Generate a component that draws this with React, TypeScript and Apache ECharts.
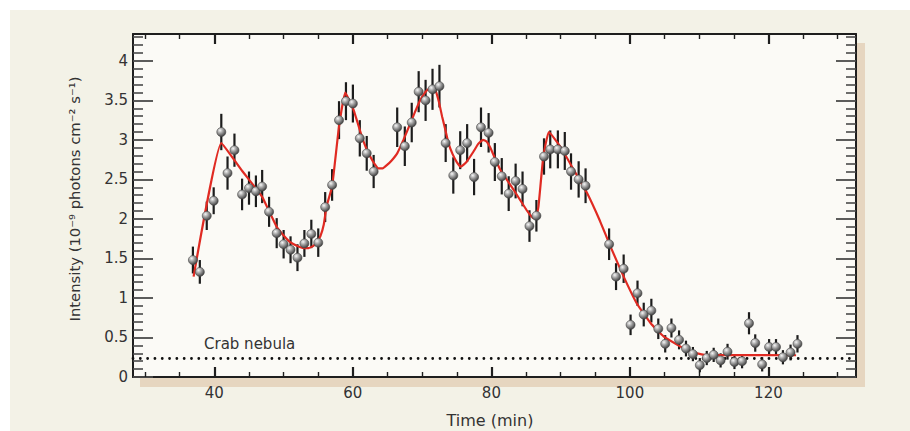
import React, { useEffect, useRef } from "react";
import * as echarts from "echarts";

const timeMin = [
  36.9, 37.9, 38.9, 39.9, 41.0, 41.9, 42.9, 44.0, 45.0, 46.0, 46.9, 47.9, 49.0, 50.0, 51.0, 52.0,
  53.0, 54.0, 55.0, 56.0, 57.0, 58.0, 59.0, 60.0, 61.0, 62.0, 63.0, 66.4, 67.5, 68.5, 69.5, 70.5,
  71.5, 72.5, 73.4, 74.5, 75.5, 76.5, 77.5, 78.5, 79.6, 80.5, 81.5, 82.5, 83.5, 84.5, 85.5, 86.5,
  87.6, 88.5, 89.6, 90.6, 91.5, 92.6, 93.6, 97.0, 98.0, 99.1, 100.1, 101.1, 102.0, 103.1, 104.1,
  105.1, 106.0, 107.1, 108.1, 109.1, 110.1, 111.1, 112.1, 113.1, 114.1, 115.1, 116.2, 117.2, 118.1,
  119.1, 120.1, 121.1, 122.1, 123.2, 124.2,
];
const intensity = [
  1.48, 1.33, 2.04, 2.23, 3.1, 2.58, 2.87, 2.31, 2.39, 2.35, 2.41, 2.09, 1.82, 1.68, 1.61, 1.51,
  1.69, 1.81, 1.7, 2.15, 2.43, 3.25, 3.49, 3.46, 3.02, 2.83, 2.6, 3.16, 2.92, 3.22, 3.61, 3.5,
  3.64, 3.68, 2.96, 2.55, 2.87, 2.96, 2.53, 3.16, 3.09, 2.72, 2.54, 2.32, 2.48, 2.38, 1.91, 2.04,
  2.79, 2.88, 2.88, 2.86, 2.6, 2.5, 2.42, 1.68, 1.27, 1.37, 0.66, 1.06, 0.79, 0.84, 0.61,
  0.42, 0.62, 0.47, 0.36, 0.29, 0.15, 0.24, 0.28, 0.21, 0.32, 0.19, 0.2, 0.68, 0.43,
  0.16, 0.38, 0.38, 0.25, 0.31, 0.42,
];
const errorBars = [
  0.17, 0.15, 0.18, 0.17, 0.23, 0.21, 0.21, 0.2, 0.21, 0.2, 0.21, 0.19, 0.19, 0.18, 0.17, 0.17,
  0.17, 0.18, 0.18, 0.19, 0.2, 0.24, 0.24, 0.24, 0.23, 0.22, 0.21, 0.25, 0.25, 0.25, 0.26, 0.26,
  0.26, 0.27, 0.24, 0.23, 0.24, 0.24, 0.23, 0.25, 0.25, 0.24, 0.23, 0.22, 0.22, 0.22, 0.2, 0.2,
  0.23, 0.24, 0.24, 0.24, 0.23, 0.23, 0.22, 0.2, 0.17, 0.18, 0.13, 0.16, 0.15, 0.15, 0.13,
  0.11, 0.12, 0.12, 0.1, 0.09, 0.09, 0.09, 0.09, 0.09, 0.1, 0.09, 0.09, 0.14, 0.11,
  0.09, 0.1, 0.1, 0.09, 0.1, 0.11,
];

const modelTime = [
  37.0, 41.0, 44.0, 46.9, 48.0, 49.0, 50.0, 50.9, 51.9, 52.9, 53.6, 54.3, 54.8, 55.3, 55.8, 56.2,
  57.0, 58.0, 58.9, 60.1, 61.3, 61.9, 62.5, 63.1, 63.7, 64.3, 64.9, 65.6, 66.4, 67.3, 68.3, 69.0,
  69.7, 70.5, 71.2, 71.9, 72.4, 72.9, 73.4, 73.8, 74.4, 75.0, 75.6, 76.4, 77.4, 78.1, 78.8, 79.3,
  79.8, 80.5, 81.3, 83.2, 85.1, 85.7, 86.1, 86.5, 86.8, 87.5, 88.3, 90.0, 91.9, 93.8, 95.7, 97.2,
  99.1, 101.0, 103.0, 104.9, 106.8, 108.7, 110.7, 112.6, 124.0,
];
const modelIntensity = [
  1.27, 2.96, 2.61, 2.28, 2.08, 1.9, 1.79, 1.71, 1.66, 1.63, 1.63, 1.66, 1.71, 1.78, 1.93, 2.16,
  2.41, 3.17, 3.6, 3.38, 3.04, 2.9, 2.79, 2.7, 2.64, 2.64, 2.68, 2.74, 2.83, 3.0, 3.21, 3.36,
  3.5, 3.61, 3.66, 3.63, 3.49, 3.29, 3.11, 2.96, 2.82, 2.72, 2.66, 2.72, 2.85, 2.95, 3.0, 2.98,
  2.91, 2.77, 2.62, 2.37, 2.11, 2.04, 2.01, 2.05, 2.16, 2.79, 3.1, 2.91, 2.62, 2.33, 1.97, 1.65,
  1.27, 0.93, 0.68, 0.51, 0.41, 0.32, 0.28, 0.277, 0.275,
];

const crabLevel = 0.24;

const majorX = [40, 60, 80, 100, 120];
const minorX = [30, 35, 45, 50, 55, 65, 70, 75, 85, 90, 95, 105, 110, 115, 125, 130];
const majorY = [0, 0.5, 1, 1.5, 2, 2.5, 3, 3.5, 4];
const minorY = [
  0.1, 0.2, 0.3, 0.4, 0.6, 0.7, 0.8, 0.9, 1.1, 1.2, 1.3, 1.4, 1.6, 1.7, 1.8, 1.9, 2.1, 2.2, 2.3,
  2.4, 2.6, 2.7, 2.8, 2.9, 3.1, 3.2, 3.3, 3.4, 3.6, 3.7, 3.8, 3.9, 4.1, 4.2, 4.3,
];

const X_MIN = 28.25;
const X_MAX = 132.65;
const Y_MIN = 0;
const Y_MAX = 4.34;

const FONT = "DejaVu Sans";
const TEXT = "#333333";

export default function App() {
  const ref = useRef<HTMLDivElement>(null);

  useEffect(() => {
    if (!ref.current) return;
    const chart = echarts.init(ref.current, null, { renderer: "svg" });

    const xBase = (position: string, show: boolean) => ({
      type: "value",
      position,
      min: X_MIN,
      max: X_MAX,
      splitLine: { show: false },
      axisLine: { show, onZero: false, lineStyle: { color: "#1e1e1e", width: 2 } },
    });
    const yBase = (position: string, show: boolean) => ({
      type: "value",
      position,
      min: Y_MIN,
      max: Y_MAX,
      interval: 0.5,
      splitLine: { show: false },
      axisLine: { show, onZero: false, lineStyle: { color: "#1e1e1e", width: 2 } },
    });

    const sphere = new echarts.graphic.RadialGradient(0.36, 0.32, 0.72, [
      { offset: 0, color: "#f6f6f6" },
      { offset: 0.4, color: "#a8a8a8" },
      { offset: 1, color: "#3c3c3c" },
    ]);

    const points = timeMin.map((t, i) => [t, intensity[i], errorBars[i]]);
    const model = modelTime.map((t, i) => [t, modelIntensity[i]]);

    chart.setOption({
      animation: false,
      grid: { left: 133, top: 34, right: 54, bottom: 54, outerBoundsMode: "none", containLabel: false },
      xAxis: [
        {
          ...xBase("bottom", true),
          axisTick: { show: true, inside: true, length: 10, customValues: majorX, lineStyle: { color: "#1e1e1e", width: 2.2 } },
          axisLabel: {
            show: true,
            customValues: majorX,
            margin: 8,
            fontFamily: FONT,
            fontSize: 15,
            color: TEXT,
          },
        },
        {
          ...xBase("bottom", false),
          axisTick: { show: true, inside: true, length: 5, customValues: minorX, lineStyle: { color: "#1e1e1e", width: 1.4 } },
          axisLabel: { show: false },
        },
        {
          ...xBase("top", true),
          axisTick: { show: true, inside: true, length: 10, customValues: majorX, lineStyle: { color: "#1e1e1e", width: 2.2 } },
          axisLabel: { show: false },
        },
        {
          ...xBase("top", false),
          axisTick: { show: true, inside: true, length: 5, customValues: minorX, lineStyle: { color: "#1e1e1e", width: 1.4 } },
          axisLabel: { show: false },
        },
      ],
      yAxis: [
        {
          ...yBase("left", true),
          axisTick: { show: true, inside: true, length: 20, customValues: majorY, lineStyle: { color: "#4a4a4a", width: 1.8 } },
          axisLabel: {
            show: true,
            customValues: majorY,
            margin: 5,
            fontFamily: FONT,
            fontSize: 15,
            color: TEXT,
            formatter: (v: number) => `${+v.toFixed(1)}`,
          },
        },
        {
          ...yBase("left", false),
          axisTick: { show: true, inside: true, length: 10, customValues: minorY, lineStyle: { color: "#4a4a4a", width: 1.6 } },
          axisLabel: { show: false },
        },
        {
          ...yBase("right", true),
          axisTick: { show: true, inside: true, length: 20, customValues: majorY, lineStyle: { color: "#4a4a4a", width: 1.8 } },
          axisLabel: { show: false },
        },
        {
          ...yBase("right", false),
          axisTick: { show: true, inside: true, length: 10, customValues: minorY, lineStyle: { color: "#4a4a4a", width: 1.6 } },
          axisLabel: { show: false },
        },
      ],
      graphic: [
        { type: "rect", z: -30, silent: true, shape: { x: 10, y: 10, width: 900, height: 421 }, style: { fill: "#f3f2e7" } },
        { type: "rect", z: -20, silent: true, shape: { x: 140, y: 43, width: 725, height: 344 }, style: { fill: "#e6d6c0" } },
        { type: "rect", z: -10, silent: true, shape: { x: 133, y: 34, width: 723, height: 343 }, style: { fill: "#fbfaf6" } },
        {
          type: "text",
          z: 10,
          x: 204,
          y: 344,
          style: { text: "Crab nebula", fontFamily: FONT, fontSize: 15, fill: TEXT, textAlign: "left", textVerticalAlign: "middle" },
        },
        {
          type: "text",
          z: 10,
          x: 490,
          y: 420,
          style: { text: "Time (min)", fontFamily: FONT, fontSize: 16, fill: TEXT, textAlign: "center", textVerticalAlign: "middle" },
        },
        {
          type: "text",
          z: 10,
          x: 74,
          y: 199,
          rotation: Math.PI / 2,
          style: {
            text: "Intensity (10\u207B\u2079 photons cm\u207B\u00B2 s\u207B\u00B9)",
            fontFamily: FONT,
            fontSize: 14.8,
            fill: TEXT,
            textAlign: "center",
            textVerticalAlign: "middle",
          },
        },
      ],
      series: [
        {
          type: "line",
          name: "Crab nebula",
          data: [],
          xAxisIndex: 0,
          yAxisIndex: 0,
          markLine: {
            silent: true,
            symbol: "none",
            label: { show: false },
            lineStyle: { color: "#111", width: 2.8, type: [0.01, 7.3], cap: "round" },
            data: [{ yAxis: crabLevel }],
          },
        },
        {
          type: "custom",
          name: "errors",
          xAxisIndex: 0,
          yAxisIndex: 0,
          z: 3,
          data: points,
          renderItem: (_params: any, api: any) => {
            const x = api.value(0);
            const y = api.value(1);
            const e = api.value(2);
            const top = api.coord([x, y + e]);
            const bot = api.coord([x, y - e]);
            return {
              type: "line",
              shape: { x1: top[0], y1: top[1], x2: bot[0], y2: bot[1] },
              style: { stroke: "#1c1c1c", lineWidth: 2.2 },
            };
          },
        },
        {
          type: "line",
          name: "model",
          xAxisIndex: 0,
          yAxisIndex: 0,
          z: 4,
          data: model,
          showSymbol: false,
          smooth: 0.12,
          lineStyle: { color: "#e02a22", width: 2.2 },
        },
        {
          type: "scatter",
          name: "data",
          xAxisIndex: 0,
          yAxisIndex: 0,
          z: 5,
          data: points.map((p) => [p[0], p[1]]),
          symbol: "circle",
          symbolSize: 9,
          itemStyle: { color: sphere, borderColor: "#444", borderWidth: 0.6, opacity: 1 },
        },
      ],
    });

    return () => chart.dispose();
  }, []);

  return (
    <div
      ref={ref}
      style={{ position: "absolute", left: 0, top: 0, width: 910, height: 431, background: "#ffffff" }}
    />
  );
}
